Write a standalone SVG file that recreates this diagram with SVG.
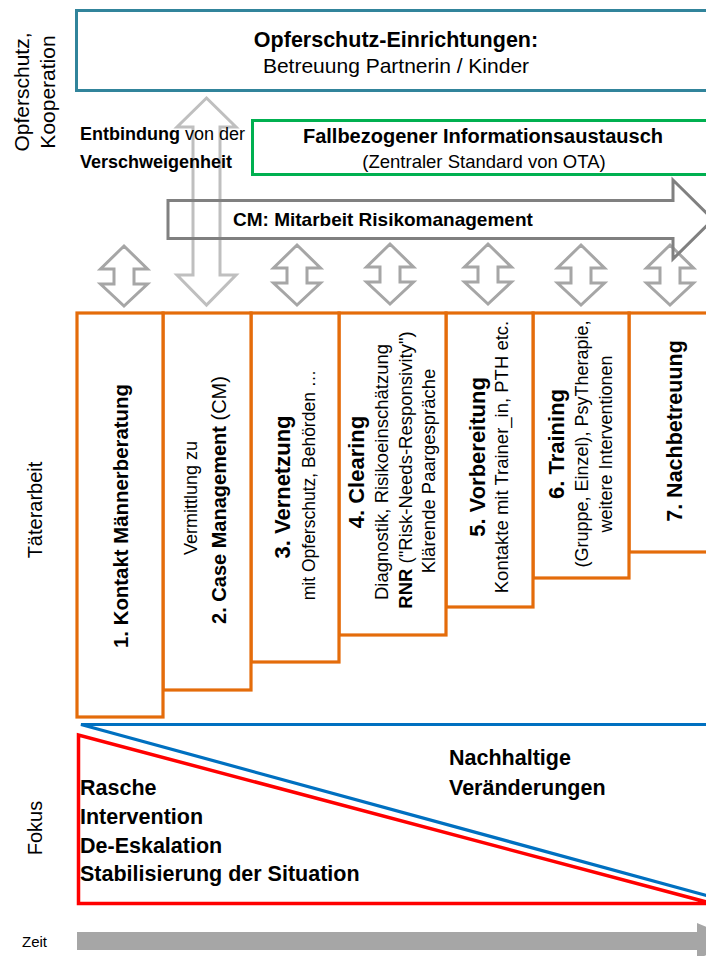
<svg xmlns="http://www.w3.org/2000/svg" width="706" height="956" viewBox="0 0 706 956">
<style>
text{font-family:"Liberation Sans",Arial,sans-serif;fill:#000}
.b{font-weight:bold}
.box{fill:#fff;stroke-width:3}
.col{fill:#fff;stroke:#E46C0A;stroke-width:3.2}
.dbl{fill:#fff;stroke:#A6A6A6;stroke-width:3;stroke-linejoin:miter}
</style>
<defs>
<path id="dblArrow" d="M0,0 L23.5,23 L10,23 L10,38 L23.5,38 L0,60 L-23.5,38 L-10,38 L-10,23 L-23.5,23 Z"/>
</defs>
<rect width="706" height="956" fill="#fff"/>

<!-- side labels -->
<g id="side-labels" font-size="21">
<text transform="translate(29,92) rotate(-90)" text-anchor="middle">Opferschutz,</text>
<text transform="translate(55,92) rotate(-90)" text-anchor="middle">Kooperation</text>
<text transform="translate(42,510) rotate(-90)" text-anchor="middle" font-size="20">Täterarbeit</text>
<text transform="translate(42,828) rotate(-90)" text-anchor="middle" font-size="20">Fokus</text>
<text x="22" y="947" font-size="15">Zeit</text>
</g>

<!-- top box -->
<g id="opferschutz">
<rect class="box" x="76.5" y="10.5" width="660" height="80" stroke="#31849B"/>
<text x="396" y="47" text-anchor="middle" font-size="21.5" class="b">Opferschutz-Einrichtungen:</text>
<text x="396" y="73" text-anchor="middle" font-size="21">Betreuung Partnerin / Kinder</text>
</g>

<!-- columns -->
<g id="col7">
<rect class="col" x="629" y="313" width="100" height="239"/>
<text transform="translate(682,431) rotate(-90)" text-anchor="middle" font-size="21.5" class="b">7. Nachbetreuung</text>
</g>
<g id="col6">
<rect class="col" x="533" y="313" width="96" height="265"/>
<text transform="translate(564,444) rotate(-90)" text-anchor="middle" font-size="22" class="b">6. Training</text>
<text transform="translate(588,444) rotate(-90)" text-anchor="middle" font-size="18">(Gruppe, Einzel), PsyTherapie,</text>
<text transform="translate(612,444) rotate(-90)" text-anchor="middle" font-size="18">weitere Interventionen</text>
</g>
<g id="col5">
<rect class="col" x="446" y="313" width="87" height="294"/>
<text transform="translate(485,457) rotate(-90)" text-anchor="middle" font-size="22" class="b">5. Vorbereitung</text>
<text transform="translate(508,457) rotate(-90)" text-anchor="middle" font-size="18.5">Kontakte mit Trainer_in, PTH etc.</text>
</g>
<g id="col4">
<rect class="col" x="339" y="313" width="107" height="322"/>
<text transform="translate(364,472) rotate(-90)" text-anchor="middle" font-size="22" class="b">4. Clearing</text>
<text transform="translate(388,472) rotate(-90)" text-anchor="middle" font-size="18.5">Diagnostik, Risikoeinschätzung</text>
<text transform="translate(412,470) rotate(-90)" text-anchor="middle" font-size="18.5"><tspan class="b">RNR</tspan> ("Risk-Needs-Responsivity")</text>
<text transform="translate(435,471) rotate(-90)" text-anchor="middle" font-size="18.5">Klärende Paargespräche</text>
</g>
<g id="col3">
<rect class="col" x="251" y="313" width="88" height="349"/>
<text transform="translate(290,487) rotate(-90)" text-anchor="middle" font-size="22" class="b">3. Vernetzung</text>
<text transform="translate(315,485) rotate(-90)" text-anchor="middle" font-size="17.5">mit Opferschutz, Behörden …</text>
</g>
<g id="col2">
<rect class="col" x="163" y="313" width="88" height="377"/>
<text transform="translate(197,498) rotate(-90)" text-anchor="middle" font-size="18">Vermittlung zu</text>
<text transform="translate(226,500) rotate(-90)" text-anchor="middle" font-size="20"><tspan class="b">2. Case Management</tspan> (CM)</text>
</g>
<g id="col1">
<rect class="col" x="77" y="313" width="86" height="404"/>
<text transform="translate(128,516) rotate(-90)" text-anchor="middle" font-size="20.4" class="b">1. Kontakt Männerberatung</text>
</g>

<!-- connectors -->
<g id="connectors">
<path d="M206.5,98 L236,127 L220,127 L220,275 L236,275 L206.5,305 L177,275 L193,275 L193,127 L177,127 Z" fill="none" stroke="#BFBFBF" stroke-width="3"/>
<use href="#dblArrow" class="dbl" transform="translate(124,246)"/>
<use href="#dblArrow" class="dbl" transform="translate(297,245)"/>
<use href="#dblArrow" class="dbl" transform="translate(390,244)"/>
<use href="#dblArrow" class="dbl" transform="translate(488,244)"/>
<use href="#dblArrow" class="dbl" transform="translate(581,245)"/>
<use href="#dblArrow" class="dbl" transform="translate(670,245)"/>
</g>

<!-- CM arrow -->
<g id="cm-arrow">
<path d="M168,200.5 L673,200.5 L673,180 L713,219.5 L673,259 L673,238.5 L168,238.5 Z" fill="none" stroke="#808080" stroke-width="3"/>
<text x="233" y="226" font-size="19" class="b">CM: Mitarbeit Risikomanagement</text>
</g>

<!-- Entbindung -->
<g id="entbindung" font-size="18">
<text x="80" y="140"><tspan class="b">Entbindung</tspan> von der</text>
<text x="80" y="168" class="b">Verschweigenheit</text>
</g>

<!-- green box -->
<g id="informationsaustausch">
<rect class="box" x="252.5" y="120.5" width="480" height="54" stroke="#00B050"/>
<text x="483" y="143" text-anchor="middle" font-size="20" class="b">Fallbezogener Informationsaustausch</text>
<text x="484" y="168" text-anchor="middle" font-size="18.5">(Zentraler Standard von OTA)</text>
</g>

<!-- Fokus section -->
<g id="fokus">
<polyline points="712,724.5 81,724.5 712,897" fill="none" stroke="#0070C0" stroke-width="3.2"/>
<polygon points="78.5,735 78.5,903.5 712,903.5" fill="none" stroke="#FF0000" stroke-width="3.5"/>
<g font-size="21.5" class="b">
<text x="80" y="795">Rasche</text>
<text x="80" y="824">Intervention</text>
<text x="80" y="853">De-Eskalation</text>
<text x="80" y="881">Stabilisierung der Situation</text>
<text x="449" y="765">Nachhaltige</text>
<text x="449" y="795">Veränderungen</text>
</g>
</g>

<!-- Zeit arrow -->
<g id="zeit">
<polygon points="77,932 697,932 697,923 740,941 697,959 697,950 77,950" fill="#A6A6A6"/>
</g>
</svg>
